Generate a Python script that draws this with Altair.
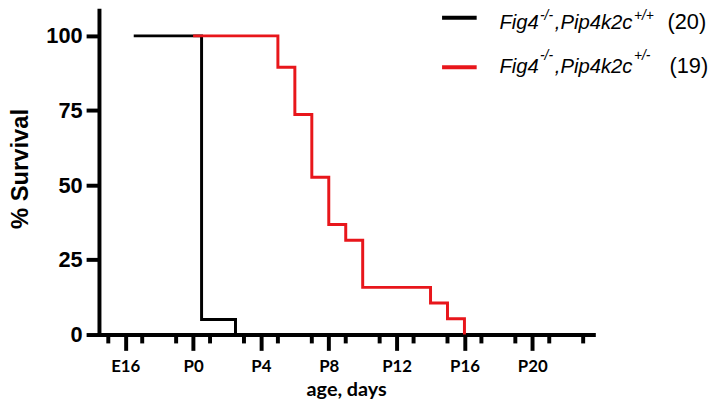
import altair as alt
import pandas as pd

# ---- data ----
ko_days = [-3.5, 0.5, 2.5]
ko_surv = [100, 5, 0]
het_days = [0, 5, 6, 7, 8, 9, 10, 14, 15, 16]
het_surv = [100, 89.47, 73.68, 52.63, 36.84, 31.58, 15.79, 10.53, 5.26, 0]
y_ticks = [0, 25, 50, 75, 100]
major_ticks = list(range(-4, 23, 2))
minor_ticks = list(range(-5, 24, 2))
gene1 = "Fig4"
gene2 = ",Pip4k2c"
sup1 = ["-/-", "-/-"]
sup2 = ["+/+", "+/-"]
counts = ["(20)", "(19)"]
colors = ["black", "#e8161b"]

ko = pd.DataFrame({"day": ko_days, "surv": ko_surv})
het = pd.DataFrame({"day": het_days, "surv": het_surv})
minor = pd.DataFrame({"day": minor_ticks})
dummy = alt.Data(values=[{"a": 1}])

H = 328
xscale = alt.Scale(domain=[-5.55, 23.6], nice=False, zero=False)
yscale = alt.Scale(domain=[0, 108.6], nice=False)

xaxis = alt.Axis(
    values=major_ticks, grid=False, tickSize=16,
    tickWidth=4, tickColor="black", domainWidth=4, domainColor="black", domainCap="square",
    labelExpr="datum.value % 4 === 0 ? (datum.value < 0 ? 'E' + (20 + datum.value) : 'P' + datum.value) : ''",
    labelFont="Lato", labelFontWeight="bold", labelFontSize=17, labelPadding=8,
    labelOverlap=False, labelFlush=False, labelColor="black",
    title="age, days", titleFont="Lato", titleFontSize=20, titleFontWeight="bold",
    titleColor="black", titleY=62, titleBaseline="alphabetic",
)
yaxis = alt.Axis(
    values=y_ticks, grid=False, tickSize=13, tickWidth=4, tickColor="black",
    domainWidth=4, domainColor="black", domainCap="square",
    labelFont="Liberation Sans", labelFontSize=22, labelFontWeight="bold",
    labelPadding=4, labelColor="black",
    title="% Survival", titleFont="Liberation Sans", titleFontSize=24,
    titleFontWeight="bold", titleColor="black", titleX=-72, titleY=160,
    titleBaseline="alphabetic", titleAlign="center",
)

black_line = alt.Chart(ko).mark_line(
    interpolate="step-after", color=colors[0], strokeWidth=3, strokeJoin="miter"
).encode(
    x=alt.X("day:Q", scale=xscale, axis=xaxis),
    y=alt.Y("surv:Q", scale=yscale, axis=yaxis),
)
red_line = alt.Chart(het).mark_line(
    interpolate="step-after", color=colors[1], strokeWidth=3, strokeJoin="miter"
).encode(
    x=alt.X("day:Q", scale=xscale),
    y=alt.Y("surv:Q", scale=yscale),
)
minor_ticks_layer = alt.Chart(minor).mark_rule(color="black", strokeWidth=4).encode(
    x=alt.X("day:Q", scale=xscale),
    y=alt.value(H), y2=alt.value(H + 9),
)

# ---- legend (manual, to allow italic + superscripts) ----
legend_layers = []
row_base = [18.7, 63.7]
sup_base = [9.5, 50.2]
sym_y = [7.7, 57.7]
main = dict(font="Liberation Sans", fontSize=20.5, fontStyle="italic",
            align="left", baseline="alphabetic", color="black")
sup = dict(font="Liberation Sans", fontSize=14, fontStyle="italic",
           align="left", baseline="alphabetic", color="black")
reg = dict(font="Liberation Sans", fontSize=22, align="left",
           baseline="alphabetic", color="black")
for i in range(2):
    legend_layers += [
        alt.Chart(dummy).mark_rule(color=colors[i], strokeWidth=4).encode(
            x=alt.value(347), x2=alt.value(382), y=alt.value(sym_y[i])),
        alt.Chart(dummy).mark_text(**main).encode(
            x=alt.value(405), y=alt.value(row_base[i]), text=alt.value(gene1)),
        alt.Chart(dummy).mark_text(**sup).encode(
            x=alt.value(446), y=alt.value(sup_base[i]), text=alt.value(sup1[i])),
        alt.Chart(dummy).mark_text(**main).encode(
            x=alt.value(461), y=alt.value(row_base[i]), text=alt.value(gene2)),
        alt.Chart(dummy).mark_text(**sup).encode(
            x=alt.value(541), y=alt.value(sup_base[i]), text=alt.value(sup2[i])),
        alt.Chart(dummy).mark_text(**reg).encode(
            x=alt.value(575 + 2 * i), y=alt.value(row_base[i]), text=alt.value(counts[i])),
    ]

chart = alt.layer(minor_ticks_layer, black_line, red_line, *legend_layers).properties(
    width=500, height=H,
    autosize=alt.AutoSizeParams(type="none"),
    padding={"left": 92, "top": 0, "right": 120, "bottom": 65},
    background="white",
).configure_view(stroke=None)

chart.save("out.html", embed_options={"renderer": "svg", "actions": False})
